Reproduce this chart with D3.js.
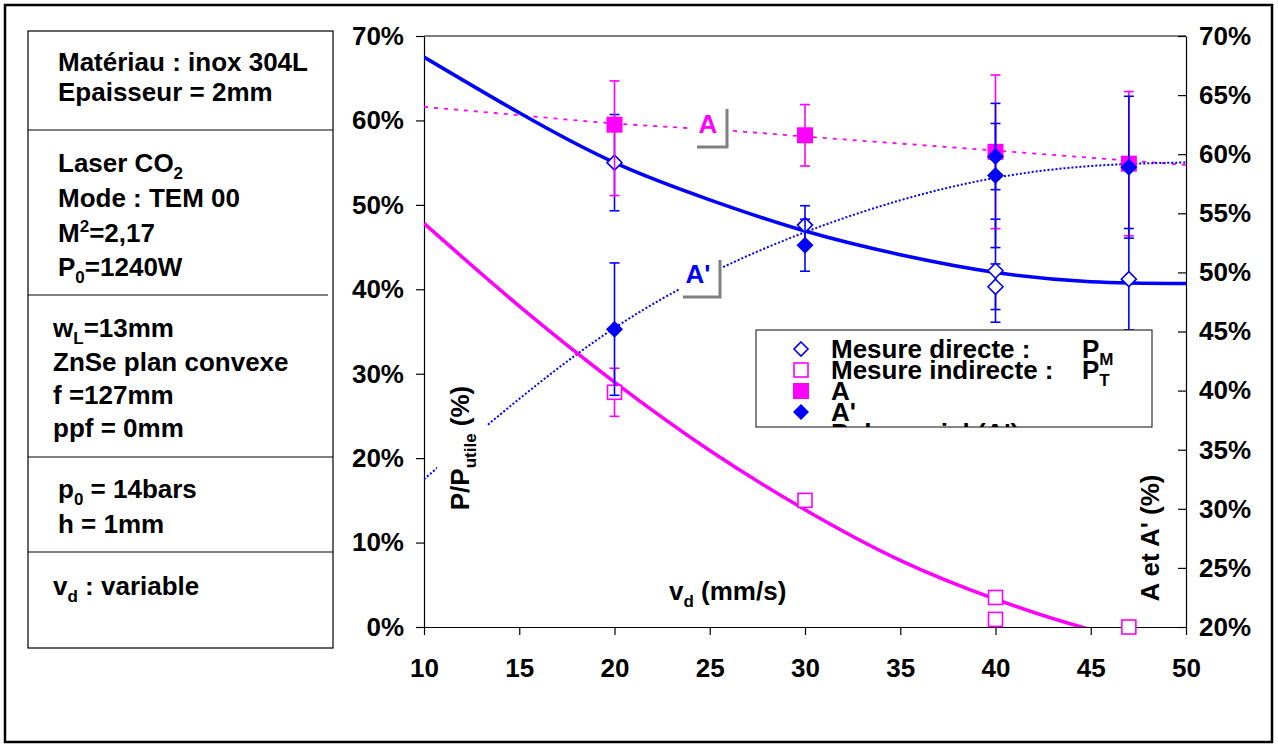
<!DOCTYPE html>
<html><head><meta charset="utf-8">
<script src="https://cdn.jsdelivr.net/npm/d3@7"></script>
<style>
body{margin:0;background:#fff;}
text{font-family:"Liberation Sans",Arial,sans-serif;font-weight:bold;fill:#000;}
</style></head><body>
<svg id="chart" width="1278" height="747"></svg>
<script>
// ---------- data ----------
const xTicks = [10,15,20,25,30,35,40,45,50];
const leftTicks = [0,10,20,30,40,50,60,70];
const rightTicks = [20,25,30,35,40,45,50,55,60,65,70];

// Mesure directe P_M (left axis, %)
const pmX = [20,30,40,40,47];
const pmY = [55.0,47.6,42.2,40.3,41.2];
const pmErr = [5.7,2.3,6.1,2.7,6.0];
// Mesure indirecte P_T (left axis, %)
const ptX = [20,30,40,40,47];
const ptY = [27.8,15.0,3.5,0.9,0.0];
const ptErr = [2.85,0,0,0,0];
// A (right axis, %)
const aX = [20,30,40,47];
const aY = [62.5,61.6,60.2,59.2];
const aErrUp = [3.7,2.6,6.5,6.1];
const aErrDown = [6.0,2.6,6.5,6.1];
// A' (right axis, %)
const apX = [20,30,40,40,47];
const apY = [45.2,52.3,59.8,58.2,58.9];
const apErr = [5.6,2.2,2.8,6.1,6.0];
// trend curves
const fitX  = [10,15,20,25,30,35,40,45,50];
const fitPM = [67.5,60.9,55.0,50.6,46.9,44.1,42.0,40.9,40.7];
const fitPT = [47.8,38.0,29.0,20.9,13.9,7.9,3.3,-0.3,-2.8];
const fitA  = [64.0,63.3,62.6,62.1,61.5,60.9,60.3,59.7,59.1];
const fitAp = [32.5,39.3,45.3,49.9,53.4,56.1,58.0,59.0,59.3];

// ---------- layout ----------
const svg = d3.select("#chart");
const X0=424, X1=1186, Y0=627, Y1=36;
const x = d3.scaleLinear().domain([10,50]).range([X0,X1]);
const yL = d3.scaleLinear().domain([0,70]).range([Y0,Y1]);
const yR = d3.scaleLinear().domain([20,70]).range([Y0,Y1]);
const BLUE="#0000ff", MAG="#ff00ff", FS=26;

// outer frame
svg.append("rect").attr("x",5).attr("y",5).attr("width",1267).attr("height",737)
  .attr("fill","none").attr("stroke","#000").attr("stroke-width",2.5);

// ---------- info box ----------
const box = svg.append("g");
box.append("rect").attr("x",28).attr("y",31).attr("width",305).attr("height",617)
  .attr("fill","none").attr("stroke","#000").attr("stroke-width",1.2);
[[130,333],[295,328],[457,333],[552,333]].forEach(d=>{
  box.append("line").attr("x1",28).attr("x2",d[1]).attr("y1",d[0]).attr("y2",d[0])
    .attr("stroke","#000").attr("stroke-width",1.2);
});
function rich(g, xx, yy, parts, size){
  const t = g.append("text").attr("x",xx).attr("y",yy).style("font-size",(size||FS)+"px");
  let shift=0;
  parts.forEach(p=>{
    let s=p, cls=null;
    if (typeof p==="object"){ s=p.t; cls=p.k; }
    let target = cls==="sub"?7:cls==="sup"?-10:0;
    const dy = target-shift; shift=target;
    const sp = t.append("tspan").text(s).attr("dy",dy);
    if (cls) sp.style("font-size","17px");
  });
  return t;
}
rich(box,58,71,["Matériau : inox 304L"]);
rich(box,58,101,["Epaisseur = 2mm"]);
rich(box,58,172,["Laser CO",{t:"2",k:"sub"}]);
rich(box,58,207,["Mode : TEM 00"]);
rich(box,58,242,["M",{t:"2",k:"sup"},"=2,17"]);
rich(box,58,276,["P",{t:"0",k:"sub"},"=1240W"]);
rich(box,53,337,["w",{t:"L",k:"sub"},"=13mm"]);
rich(box,53,371,["ZnSe plan convexe"]);
rich(box,53,404,["f =127mm"]);
rich(box,53,437,["ppf = 0mm"]);
rich(box,58,498,["p",{t:"0",k:"sub"}," = 14bars"]);
rich(box,58,533,["h = 1mm"]);
rich(box,53,595,["v",{t:"d",k:"sub"}," : variable"]);

// ---------- axes ----------
svg.append("line").attr("x1",X0).attr("x2",X1).attr("y1",Y1).attr("y2",Y1).attr("stroke","#000").attr("stroke-width",1);
const gx = svg.append("g").attr("transform",`translate(0,${Y0})`)
  .call(d3.axisBottom(x).tickValues(xTicks).tickSize(8).tickPadding(24).tickSizeOuter(0).tickFormat(d3.format("d")));
const gl = svg.append("g").attr("transform",`translate(${X0},0)`)
  .call(d3.axisLeft(yL).tickValues(leftTicks).tickSize(8).tickPadding(12).tickSizeOuter(0).tickFormat(d=>d+"%"));
const gr = svg.append("g").attr("transform",`translate(${X1},0)`)
  .call(d3.axisLeft(yR).tickValues(rightTicks).tickSize(8).tickSizeOuter(0).tickFormat(""));
const grl = svg.append("g").attr("transform",`translate(${X1},0)`)
  .call(d3.axisRight(yR).tickValues(rightTicks).tickSize(0).tickPadding(13).tickFormat(d=>d+"%"));
grl.select(".domain").remove();
[gx,gl,gr,grl].forEach(g=>{
  g.selectAll("text").style("font-size",FS+"px").style("font-family",'"Liberation Sans",Arial,sans-serif').style("font-weight","bold").attr("fill","#000");
  g.selectAll("line,path").attr("stroke","#000").attr("stroke-width",1.2);
});

// ---------- curves ----------
svg.append("clipPath").attr("id","plotclip").append("rect")
  .attr("x",X0).attr("y",Y1).attr("width",X1-X0).attr("height",Y0-Y1);
const curves = svg.append("g").attr("clip-path","url(#plotclip)");
function curve(ys, yscale){
  return d3.line().x((d,i)=>x(fitX[i])).y(d=>yscale(d)).curve(d3.curveNatural)(ys);
}
curves.append("path").attr("d",curve(fitA,yR)).attr("fill","none").attr("stroke",MAG)
  .attr("stroke-width",1.8).attr("stroke-dasharray","4,6");
curves.append("path").attr("d",curve(fitAp,yR)).attr("fill","none").attr("stroke",BLUE)
  .attr("stroke-width",2).attr("stroke-dasharray","2,2");
curves.append("path").attr("d",curve(fitPM,yL)).attr("fill","none").attr("stroke",BLUE).attr("stroke-width",3.5);
curves.append("path").attr("d",curve(fitPT,yL)).attr("fill","none").attr("stroke",MAG).attr("stroke-width",3.5);

// ---------- labels A / A' with callouts ----------
function callout(tx, ty, txt, col, rx, ry, rw, rh, vx, vy1, vy2, hx1){
  svg.append("rect").attr("x",rx).attr("y",ry).attr("width",rw).attr("height",rh).attr("fill","#fff");
  svg.append("path").attr("d",`M${vx},${vy1}V${vy2}H${hx1}`).attr("fill","none")
    .attr("stroke","#808080").attr("stroke-width",3);
  svg.append("text").attr("x",tx).attr("y",ty).attr("text-anchor","middle")
    .style("font-size",FS+"px").style("fill",col).text(txt);
}
callout(708,133,"A",MAG, 690,104,42,46, 727,109,147,697);
callout(698,283,"A'",BLUE, 680,256,42,44, 720,260,297,683);

// axis titles
const lt = svg.append("g").attr("transform","translate(469,448) rotate(-90)");
lt.append("rect").attr("x",-68).attr("y",-32).attr("width",136).attr("height",50).attr("fill","#fff");
rich(lt,0,0,["P/P",{t:"utile",k:"sub"}," (%)"]).attr("text-anchor","middle");
const rt = svg.append("g").attr("transform","translate(1159,538) rotate(-90)");
rt.append("text").attr("text-anchor","middle").style("font-size",FS+"px").text("A et A' (%)");
rich(svg,669,600,["v",{t:"d",k:"sub"}," (mm/s)"]);

// ---------- points with error bars ----------
function errbar(g, xs, ys, up, down, yscale, col){
  xs.forEach((xv,i)=>{
    if (!up[i] && !down[i]) return;
    const cx=x(xv), t=yscale(ys[i]+up[i]), b=yscale(ys[i]-down[i]);
    g.append("line").attr("x1",cx).attr("x2",cx).attr("y1",t).attr("y2",b).attr("stroke",col).attr("stroke-width",1.6);
    [t,b].forEach(v=>g.append("line").attr("x1",cx-5).attr("x2",cx+5).attr("y1",v).attr("y2",v).attr("stroke",col).attr("stroke-width",1.6));
  });
}
const diamond = s=>`M0,${-s}L${s},0L0,${s}L${-s},0Z`;
const pts = svg.append("g");
errbar(pts, pmX, pmY, pmErr, pmErr, yL, BLUE);
pmX.forEach((xv,i)=>pts.append("path").attr("d",diamond(7.5)).attr("transform",`translate(${x(xv)},${yL(pmY[i])})`)
  .attr("fill","#fff").attr("stroke",BLUE).attr("stroke-width",1.6));
errbar(pts, ptX, ptY, ptErr, ptErr, yL, MAG);
ptX.forEach((xv,i)=>pts.append("rect").attr("x",x(xv)-7).attr("y",yL(ptY[i])-7).attr("width",14).attr("height",14)
  .attr("fill","#fff").attr("stroke",MAG).attr("stroke-width",1.6));
errbar(pts, aX, aY, aErrUp, aErrDown, yR, MAG);
aX.forEach((xv,i)=>pts.append("rect").attr("x",x(xv)-8).attr("y",yR(aY[i])-8).attr("width",16).attr("height",16).attr("fill",MAG));
errbar(pts, apX, apY, apErr, apErr, yR, BLUE);
apX.forEach((xv,i)=>pts.append("path").attr("d",diamond(8.5)).attr("transform",`translate(${x(xv)},${yR(apY[i])})`).attr("fill",BLUE));

// ---------- legend ----------
const legNames = ["Mesure directe :","Mesure indirecte :","A","A'","Polynomial (A')"];
svg.append("clipPath").attr("id","legclip").append("rect").attr("x",756).attr("y",330).attr("width",396).attr("height",97);
svg.append("rect").attr("x",756).attr("y",330).attr("width",396).attr("height",97)
  .attr("fill","#fff").attr("stroke","#333").attr("stroke-width",1.2);
const leg = svg.append("g").attr("clip-path","url(#legclip)");
legNames.forEach((n,i)=>{
  const cy = 349 + i*21;
  leg.append("text").attr("x",831).attr("y",cy+9).style("font-size",FS+"px").text(n);
  if (i===0) leg.append("path").attr("d",diamond(7)).attr("transform",`translate(801,${cy})`).attr("fill","#fff").attr("stroke",BLUE).attr("stroke-width",1.6);
  if (i===1) leg.append("rect").attr("x",794).attr("y",cy-7).attr("width",14).attr("height",14).attr("fill","#fff").attr("stroke",MAG).attr("stroke-width",1.6);
  if (i===2) leg.append("rect").attr("x",793).attr("y",cy-8).attr("width",16).attr("height",16).attr("fill",MAG);
  if (i===3) leg.append("path").attr("d",diamond(8)).attr("transform",`translate(801,${cy})`).attr("fill",BLUE);
});
rich(leg,1082,358,["P",{t:"M",k:"sub"}]);
rich(leg,1082,379,["P",{t:"T",k:"sub"}]);
</script></body></html>
